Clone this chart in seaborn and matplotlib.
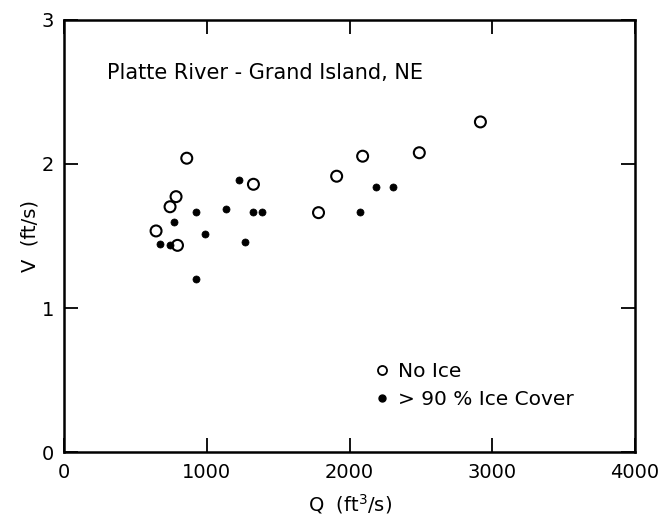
import matplotlib
matplotlib.use("Agg")
import matplotlib.pyplot as plt
from matplotlib.lines import Line2D
import numpy as np
import pandas as pd
import seaborn as sns

# Discharge Q (ft^3/s) and mean velocity V (ft/s), open water
q_no_ice = [645, 743, 785, 795, 860, 1327, 1783, 1910, 2092, 2489, 2917]
v_no_ice = [1.535, 1.703, 1.773, 1.435, 2.04, 1.859, 1.662, 1.915, 2.054, 2.078, 2.292]

# Discharge and velocity with more than 90% ice cover
q_ice = [673, 743, 771, 926, 926, 991, 1136, 1227, 1267, 1323, 1384, 2076, 2186, 2302]
v_ice = [1.442, 1.435, 1.597, 1.669, 1.199, 1.516, 1.685, 1.891, 1.460, 1.667, 1.667,
         1.665, 1.84, 1.84]

x_ticks = [0, 1000, 2000, 3000, 4000]
y_ticks = [0, 1, 2, 3]
site_label = "Platte River - Grand Island, NE"
series_labels = ["No Ice", "> 90 % Ice Cover"]

df = pd.DataFrame({
    "Q": q_no_ice + q_ice,
    "V": v_no_ice + v_ice,
    "cover": [series_labels[0]] * len(q_no_ice) + [series_labels[1]] * len(q_ice),
})

sns.set_theme(style="ticks")
plt.rcParams["font.family"] = ["DejaVu Sans"]
plt.rcParams["text.color"] = "black"
plt.rcParams["axes.labelcolor"] = "black"
plt.rcParams["xtick.color"] = "black"
plt.rcParams["ytick.color"] = "black"

fig = plt.figure(figsize=(6.59, 5.25), dpi=100)
ax = fig.add_axes([0.0971, 0.139, 0.8665, 0.823])

open_df = df[df["cover"] == series_labels[0]]
ice_df = df[df["cover"] == series_labels[1]]
sns.scatterplot(data=open_df, x="Q", y="V", ax=ax, marker="o", s=62,
                facecolors="none", edgecolor="black", linewidth=1.5, legend=False)
sns.scatterplot(data=ice_df, x="Q", y="V", ax=ax, marker="o", s=26,
                color="black", edgecolor="black", linewidth=0.5, legend=False)

ax.set_xlim(0, 4000)
ax.set_ylim(0, 3)
ax.set_xticks(x_ticks)
ax.set_yticks(y_ticks)
ax.set_xticklabels([str(t) for t in x_ticks], fontsize=14)
ax.set_yticklabels([str(t) for t in y_ticks], fontsize=14)
ax.tick_params(direction="in", length=10, width=1.3, top=True, right=True,
               colors="black", pad=7)
ax.tick_params(axis="x", pad=8)
for side in ax.spines.values():
    side.set_linewidth(1.8)
    side.set_color("black")

ax.set_xlabel("Q  (ft$^3$/s)", fontsize=14, labelpad=7)
ax.set_ylabel("V  (ft/s)", fontsize=14, labelpad=2)

ax.text(300, 2.63, site_label, fontsize=15, ha="left", va="center")

handles = [
    Line2D([], [], linestyle="none", marker="o", markersize=6.5,
           markerfacecolor="none", markeredgecolor="black", markeredgewidth=1.3),
    Line2D([], [], linestyle="none", marker="o", markersize=5,
           markerfacecolor="black", markeredgecolor="black"),
]
ax.legend(handles, series_labels, loc="upper left", bbox_to_anchor=(0.525, 0.228),
          frameon=False, fontsize=14.5, handletextpad=0.3, labelspacing=0.45,
          handlelength=1.0, borderaxespad=0)

fig.savefig("out.png", dpi=100, facecolor="white")
